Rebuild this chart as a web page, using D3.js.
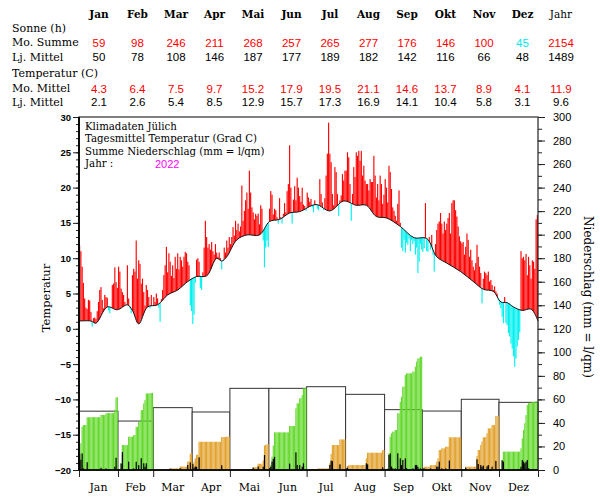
<!DOCTYPE html>
<html>
<head>
<meta charset="utf-8">
<script src="https://cdn.jsdelivr.net/npm/d3@7"></script>
<style>
    body { margin: 0; background: #fff; }
    svg { display: block; }
    text { font-family: "DejaVu Serif", serif; fill: #000; }
    .num { font-family: "Liberation Sans", sans-serif; }
    .axis text { font-family: "Liberation Sans", sans-serif; }
</style>
</head>
<body>
<svg width="600" height="500"></svg>
<script>
var columns = ["Jan", "Feb", "Mar", "Apr", "Mai", "Jun", "Jul", "Aug", "Sep", "Okt", "Nov", "Dez", "Jahr"];
var monthDays = [31, 28, 31, 30, 31, 30, 31, 31, 30, 31, 30, 31];
var rowLabels = ["Sonne (h)", "Mo. Summe", "Lj. Mittel", "Temperatur (C)", "Mo. Mittel", "Lj. Mittel"];
var sunSum = [59, 98, 246, 211, 268, 257, 265, 277, 176, 146, 100, 45, 2154];
var sunNorm = [50, 78, 108, 146, 187, 177, 189, 182, 142, 116, 66, 48, 1489];
var tempMean = [4.3, 6.4, 7.5, 9.7, 15.2, 17.9, 19.5, 21.1, 14.6, 13.7, 8.9, 4.1, 11.9];
var tempNorm = [2.1, 2.6, 5.4, 8.5, 12.9, 15.7, 17.3, 16.9, 14.1, 10.4, 5.8, 3.1, 9.6];
var rainNorm = [50, 41.6, 53, 49.3, 69.4, 69.4, 70.8, 64.3, 51.3, 50.1, 60.1, 57.5];
var titleLines = ["Klimadaten Jülich", "Tagesmittel Temperatur (Grad C)", "Summe Niederschlag (mm = l/qm)", "Jahr :"];
var yearLabel = "2022";

// long-term mean temperature, read at some days of the year
var climDays = [0, 9, 13, 22, 30, 38, 42, 47, 54, 62, 70, 78, 86, 93, 101, 109, 113, 117, 125, 133, 143, 151, 159, 167,
    175, 188, 199, 210, 220, 228, 236, 244, 255, 266, 276, 284, 292, 303, 313, 321, 329, 335, 340, 345, 352, 359, 364];
var climTemp = [1.1, 1.1, 0.8, 3.1, 2.7, 3.4, 2.6, 0.7, 3.1, 3.4, 4.8, 5.5, 6.7, 7.4, 7.5, 10.0, 9.6, 10.2, 12.6, 13.3,
    13.3, 15.2, 15.5, 16.4, 16.6, 17.6, 16.7, 18.1, 17.5, 17.5, 15.9, 15.7, 14.5, 12.9, 12.8, 10.2, 9.3, 8.1, 6.7, 5.6,
    5.3, 3.8, 3.7, 3.1, 2.6, 2.8, 1.1];

// daily mean temperature 2022
var tempDaily = [
    11.8, 11.0, 8.8, 6.5, 4.3, 3.0, 2.8, 4.1, 4.0, 2.4, 0.3, 1.5, 1.6, 1.4, 2.5, 3.8, 5.5, 5.9, 4.1, 2.9, 4.8, 4.5, 4.4, 2.6, 2.2, 3.0, 6.2, 6.4, 8.7, 6.6, 5.8,
    8.8, 8.1, 5.7, 5.2, 4.8, 3.8, 3.3, 9.0, 4.3, 2.9, 2.2, 7.6, 8.5, 8.1, 12.5, 7.1, 9.7, 9.2, 6.4, 7.1, 5.2, 3.3, 6.2, 5.5, 4.5, 2.9, 4.8, 3.3,
    4.5, 3.8, 5.0, 4.3, 3.0, 1.0, 4.2, 5.5, 7.6, 9.0, 11.6, 8.0, 10.7, 9.5, 7.5, 9.0, 7.2, 10.2, 8.5, 10.7, 8.4, 10.2, 9.7, 8.8, 10.2, 10.9, 10.7, 9.5, 9.0, 3.3, 2.5,
    0.7, 2.0, 6.5, 9.8, 10.0, 9.5, 5.8, 5.5, 8.0, 11.5, 15.3, 13.0, 11.5, 12.0, 11.2, 12.3, 11.0, 10.5, 12.0, 10.8, 10.2, 10.8, 10.0, 8.4, 9.6, 11.5, 10.8, 12.5, 11.5, 13.0,
    12.0, 13.0, 14.4, 13.2, 15.3, 14.0, 14.9, 13.8, 14.5, 20.3, 15.3, 16.7, 18.2, 19.3, 17.0, 22.4, 19.3, 17.2, 16.5, 15.5, 16.3, 16.0, 16.3, 14.8, 17.5, 17.0, 12.5, 8.7, 11.5, 12.5, 11.6,
    17.0, 19.5, 19.0, 16.2, 17.0, 16.8, 15.8, 14.9, 18.5, 15.8, 14.9, 16.3, 17.8, 16.5, 19.5, 20.5, 26.0, 20.0, 14.9, 18.3, 20.2, 18.2, 21.4, 20.0, 18.8, 18.0, 20.0, 17.6, 17.4, 16.7,
    19.3, 18.6, 18.0, 18.4, 17.2, 16.5, 18.2, 17.5, 17.0, 16.8, 21.2, 19.1, 17.9, 16.8, 18.5, 21.7, 24.8, 29.2, 24.8, 23.6, 19.1, 17.5, 22.9, 22.2, 19.1, 16.0, 18.2, 18.9, 21.9, 21.0, 22.4,
    22.4, 25.0, 24.3, 20.5, 15.3, 19.1, 22.9, 21.5, 25.0, 24.5, 25.2, 23.8, 25.2, 21.7, 23.1, 21.0, 20.5, 20.5, 19.6, 21.2, 20.8, 20.8, 24.5, 21.7, 18.6, 20.5, 18.2, 21.7, 20.5, 17.7, 19.0,
    21.2, 20.0, 17.9, 23.1, 22.2, 19.8, 17.2, 16.7, 16.0, 15.3, 17.7, 19.6, 15.0, 11.5, 11.0, 12.6, 10.8, 12.2, 11.9, 12.8, 11.0, 12.6, 12.0, 12.4, 10.5, 11.5, 7.9, 9.5, 12.0, 11.2,
    10.9, 11.4, 17.8, 11.0, 10.9, 13.0, 11.2, 13.3, 10.5, 8.1, 12.0, 14.0, 14.9, 15.2, 16.4, 14.9, 13.5, 15.2, 14.0, 14.9, 15.7, 16.4, 13.5, 17.8, 18.2, 18.2, 16.8, 15.9, 14.5, 13.1, 12.4,
    12.1, 12.3, 10.5, 11.6, 13.5, 12.6, 10.2, 11.2, 9.7, 8.8, 8.3, 9.3, 11.9, 10.2, 8.8, 7.9, 3.6, 7.1, 8.1, 7.9, 7.6, 8.1, 6.7, 6.9, 6.2, 5.5, 6.0, 5.3, 5.0, 4.0,
    3.4, 2.9, 1.7, 0.8, 4.5, 0.8, 0.5, -0.6, -1.1, -2.1, -2.8, -3.9, -5.4, -4.2, -2.5, -1.6, -0.5, 11.0, 10.0, 10.2, 9.7, 10.6, 7.6, 10.2, 9.0, 7.1, 9.7, 9.5, 8.5, 15.5, 16.1
];

// daily precipitation 2022 (mm)
var rainDaily = [
    14, 8.7, 14.1, 1.4, 0, 0, 6.6, 0, 0, 0, 0.1, 0, 0, 0, 0, 0, 0, 1.9, 0, 0, 0, 1.4, 0, 0.2, 0, 0, 0, 0, 2.8, 10.4, 0.3,
    0.3, 0.2, 5.5, 15.2, 0, 0, 0, 0, 7.1, 0, 0, 0, 1.4, 0, 7.0, 0, 4.2, 0, 10.0, 0, 5.7, 2.8, 5.7, 0, 0, 0, 0.4, 0,
    0, 0, 0, 0, 0, 0, 0, 0, 0, 0, 0, 0, 0, 1.2, 0.2, 0, 0, 0, 0, 0, 0, 1.5, 0, 0, 0, 0, 0, 4.3, 0.2, 6.4, 0,
    5.0, 2.0, 3.0, 2.7, 0.5, 10.8, 0, 0, 0, 0, 0, 0, 0, 0, 0, 0, 0, 0, 0, 0, 0, 0, 0, 4.0, 0, 0, 0, 0.3, 0, 0,
    0, 0, 0.3, 0, 0, 0, 0, 0, 0, 0, 0, 0, 0, 0, 0, 0, 0, 0, 2.0, 0, 0, 0, 3.0, 0, 0, 0, 2.8, 12.7, 0.5, 0.4, 0.3,
    1.5, 2.7, 7.1, 9.5, 11.2, 0, 0, 0, 0, 0, 0, 0, 0, 0, 0, 0, 5.4, 0, 0, 0, 0, 15.0, 4.3, 0, 4.2, 0, 2.8, 5.7, 0.3, 0.3,
    0.3, 0, 0, 0, 0.6, 0, 0, 0, 0, 0.5, 0, 0, 0, 0, 0, 0, 0, 0, 4.3, 8.0, 7.5, 0, 0, 0, 0, 0, 4.8, 0, 0, 0, 0,
    1.4, 2.0, 0.8, 0, 0, 0, 0, 0, 0, 0, 0, 0, 0, 0, 0, 0, 5.7, 4.8, 0, 0, 0, 0, 0, 0, 0, 0, 0, 0, 0, 2.3, 0,
    0.5, 0.5, 0.4, 12.8, 14.1, 2.9, 1.4, 0, 1.4, 0, 14.2, 0, 9.9, 4.2, 8.5, 0, 9.9, 1.5, 0, 0, 0, 0, 1.4, 0, 4.2, 4.3, 2.8, 0, 1.4, 0,
    1.5, 1.3, 0, 0, 0, 0, 1.4, 0, 0, 0, 0, 2.9, 2.8, 7.1, 0, 1.4, 0, 0, 1.4, 0, 0, 8.0, 0, 0, 0, 0, 0, 0, 0, 0, 0,
    0.5, 0.3, 0, 2.0, 0, 0, 0, 0, 0, 0, 0, 0, 9.1, 5.1, 0, 4.2, 2.9, 3.7, 0, 0.2, 3.2, 4.2, 0, 0, 2.8, 0, 0, 7.7, 0, 0,
    0, 0.3, 8.2, 7.1, 0, 0, 0, 0, 0, 0, 0, 0, 0, 0, 0, 0, 0, 2.8, 8.5, 7.1, 5.7, 7.0, 8.5, 1.5, 0.3, 0.4, 0.3, 0, 0.2, 0.3, 0.2
];

var svg, margin, width, height, g, xScale, yTemp, yRain, monthStart, days;

function initLayout() {
    svg = d3.select("svg"),
        margin = {top: 117, right: 62, bottom: 30, left: 79},
        width = +svg.attr("width") - margin.left - margin.right,
        height = +svg.attr("height") - margin.top - margin.bottom;

    xScale = d3.scaleLinear().domain([0, 365]).range([0, width]);
    yTemp = d3.scaleLinear().domain([-20, 30]).range([height, 0]);
    yRain = d3.scaleLinear().domain([0, 300]).range([height, 0]);

    monthStart = [0].concat(Array.from(d3.cumsum(monthDays)));

    // one record per day, with the running monthly rain sum
    days = [];
    monthDays.forEach(function (n, m) {
        var cum = d3.cumsum(rainDaily.slice(monthStart[m], monthStart[m] + n));
        d3.range(n).forEach(function (k) {
            var i = monthStart[m] + k;
            days.push({i: i, m: m, t: tempDaily[i], p: rainDaily[i], cum: cum[k]});
        });
    });

    g = svg.append("g")
        .attr("transform", "translate(" + margin.left + "," + margin.top + ")");
}

function drawTable() {
    var colX = d3.scalePoint().domain(columns).range([99, 561]);
    var table = svg.append("g").attr("id", "table");

    table.selectAll(".head")
        .data(columns)
        .enter().append("text")
        .attr("x", function (d) { return colX(d); })
        .attr("y", 14)
        .attr("text-anchor", "middle")
        .attr("dominant-baseline", "central")
        .attr("font-weight", function (d, i) { return i < 12 ? "bold" : "normal"; })
        .style("font-size", "10.5px")
        .text(function (d) { return d; });

    var rowY = [28.5, 42.5, 57, 73, 88.5, 102];
    table.selectAll(".rowlabel")
        .data(rowLabels)
        .enter().append("text")
        .attr("x", 12)
        .attr("y", function (d, i) { return rowY[i]; })
        .attr("dominant-baseline", "central")
        .style("font-size", "11px")
        .text(function (d) { return d; });

    function valueRow(values, y, norms, fmt) {
        table.append("g").selectAll("text")
            .data(values)
            .enter().append("text")
            .attr("class", "num")
            .attr("x", function (d, i) { return colX(columns[i]); })
            .attr("y", y)
            .attr("text-anchor", "middle")
            .attr("dominant-baseline", "central")
            .style("font-size", "11.5px")
            .style("fill", function (d, i) {
                if (!norms) return "#000";
                return d >= norms[i] ? "#ff0000" : "#00e8f0";
            })
            .text(function (d) { return fmt(d); });
    }

    valueRow(sunSum, 42.5, sunNorm, d3.format("d"));
    valueRow(sunNorm, 57, null, d3.format("d"));
    valueRow(tempMean, 88.5, tempNorm, d3.format(".1f"));
    valueRow(tempNorm, 102, null, d3.format(".1f"));
}

function climX(d, i) {
    if (i === 0) return 0;
    if (i === climDays.length - 1) return width;
    return xScale(d + 0.5);
}

function plotTemperature() {
    var clim = climDays.map(function (d, i) { return [d, climTemp[i]]; });
    var defs = svg.append("defs");

    var aboveArea = d3.area()
        .x(function (d, i) { return climX(d[0], i); })
        .y0(0)
        .y1(function (d) { return yTemp(d[1]); })
        .curve(d3.curveCatmullRom);
    var belowArea = d3.area()
        .x(function (d, i) { return climX(d[0], i); })
        .y0(function (d) { return yTemp(d[1]); })
        .y1(height)
        .curve(d3.curveCatmullRom);

    defs.append("clipPath").attr("id", "above")
        .append("path").attr("d", aboveArea(clim));
    defs.append("clipPath").attr("id", "below")
        .append("path").attr("d", belowArea(clim));

    var step = xScale(1) - xScale(0);

    // warmer than normal: from the curve up to the day value
    g.append("g").attr("clip-path", "url(#above)")
        .selectAll("rect")
        .data(days)
        .enter().append("rect")
        .attr("x", function (d) { return xScale(d.i) + 0.05; })
        .attr("width", step - 0.12)
        .attr("y", function (d) { return yTemp(d.t); })
        .attr("height", function (d) { return height - yTemp(d.t); })
        .attr("fill", "#ff0000");

    // colder than normal: from the curve down to the day value
    g.append("g").attr("clip-path", "url(#below)")
        .selectAll("rect")
        .data(days)
        .enter().append("rect")
        .attr("x", function (d) { return xScale(d.i) + 0.05; })
        .attr("width", step - 0.12)
        .attr("y", 0)
        .attr("height", function (d) { return yTemp(d.t); })
        .attr("fill", "#00f0f0");

    var line = d3.line()
        .x(function (d, i) { return climX(d[0], i); })
        .y(function (d) { return yTemp(d[1]); })
        .curve(d3.curveCatmullRom);
    g.append("path")
        .attr("d", line(clim))
        .attr("fill", "none")
        .attr("stroke", "#111")
        .attr("stroke-width", 1);
}

function plotRain() {
    var totals = monthDays.map(function (n, m) {
        return d3.sum(rainDaily.slice(monthStart[m], monthStart[m] + n));
    });

    // long-term monthly sums
    g.append("g").selectAll("rect")
        .data(rainNorm)
        .enter().append("rect")
        .attr("x", function (d, m) { return xScale(monthStart[m]); })
        .attr("width", function (d, m) { return xScale(monthDays[m]) - xScale(0); })
        .attr("y", function (d) { return yRain(d); })
        .attr("height", function (d) { return height - yRain(d); })
        .attr("fill", "#fff")
        .attr("stroke", "#333")
        .attr("stroke-width", 1);

    var step = xScale(1) - xScale(0);

    // running sum within each month
    g.append("g").selectAll("rect")
        .data(days.filter(function (d) { return d.cum > 0; }))
        .enter().append("rect")
        .attr("x", function (d) { return xScale(d.i) + 0.05; })
        .attr("width", step - 0.15)
        .attr("y", function (d) { return yRain(d.cum); })
        .attr("height", function (d) { return height - yRain(d.cum); })
        .attr("fill", function (d) { return totals[d.m] >= rainNorm[d.m] ? "#62d82a" : "#e2a12c"; });

    // daily amounts
    g.append("g").selectAll("rect")
        .data(days.filter(function (d) { return d.p > 0; }))
        .enter().append("rect")
        .attr("x", function (d) { return xScale(d.i + 0.5) - 0.6; })
        .attr("width", 1.2)
        .attr("y", function (d) { return yRain(d.p); })
        .attr("height", function (d) { return height - yRain(d.p); })
        .attr("fill", "#000");
}

function drawAxes() {
    var left = g.append("g").attr("class", "axis")
        .call(d3.axisLeft(yTemp).tickValues(d3.range(-20, 31, 5)).tickSize(6).tickPadding(2));
    left.selectAll("text").style("font-size", "9.5px").attr("font-weight", "bold");
    g.append("g").attr("class", "axis")
        .call(d3.axisLeft(yTemp).tickValues(d3.range(-20, 31, 1)).tickSize(3).tickFormat(""));

    var right = g.append("g").attr("class", "axis")
        .attr("transform", "translate(" + width + ",0)")
        .call(d3.axisRight(yRain).tickValues(d3.range(0, 301, 20)).tickSize(7).tickPadding(8));
    right.selectAll("text").style("font-size", "11px");
    g.append("g").attr("class", "axis")
        .attr("transform", "translate(" + width + ",0)")
        .call(d3.axisRight(yRain).tickValues(d3.range(0, 301, 10)).tickSize(4).tickFormat(""));

    g.append("g").attr("class", "axis")
        .attr("transform", "translate(0," + height + ")")
        .call(d3.axisBottom(xScale).tickValues(monthStart).tickSize(7).tickFormat(""));

    g.selectAll(".axis .domain").remove();
    g.selectAll(".axis line").attr("stroke", "#222");

    g.append("rect")
        .attr("width", width)
        .attr("height", height)
        .attr("fill", "none")
        .attr("stroke", "#222")
        .attr("stroke-width", 1.2);
    g.append("line")
        .attr("x1", 0).attr("x2", width)
        .attr("y1", 0).attr("y2", 0)
        .attr("stroke", "#888").attr("stroke-width", 1.2);
    g.append("line")
        .attr("x1", 0).attr("x2", 0)
        .attr("y1", 0).attr("y2", height)
        .attr("stroke", "#000").attr("stroke-width", 1.8);
    g.append("line")
        .attr("x1", 0).attr("x2", width)
        .attr("y1", height).attr("y2", height)
        .attr("stroke", "#000").attr("stroke-width", 1.6);

    // month names under the plot
    g.append("g").selectAll("text")
        .data(columns.slice(0, 12))
        .enter().append("text")
        .attr("x", function (d, m) { return xScale(monthStart[m] + monthDays[m] / 2); })
        .attr("y", height + 17)
        .attr("text-anchor", "middle")
        .attr("dominant-baseline", "central")
        .style("font-size", "11px")
        .text(function (d) { return d; });

    svg.append("text")
        .attr("transform", "translate(46,298) rotate(-90)")
        .attr("text-anchor", "middle")
        .attr("dominant-baseline", "central")
        .style("font-size", "11.5px")
        .text("Temperatur");

    svg.append("text")
        .attr("transform", "translate(588,297) rotate(90)")
        .attr("text-anchor", "middle")
        .attr("dominant-baseline", "central")
        .style("font-size", "12px")
        .text("Niederschlag (mm = l/qm)");
}

function drawHeader() {
    var header = g.append("g").attr("id", "header");
    header.selectAll("text")
        .data(titleLines)
        .enter().append("text")
        .attr("x", 6)
        .attr("y", function (d, i) { return 9 + i * 12.5; })
        .attr("dominant-baseline", "central")
        .style("font-size", "10.2px")
        .text(function (d) { return d; });
    header.append("text")
        .attr("class", "num")
        .attr("x", 76)
        .attr("y", 9 + 3 * 12.5)
        .attr("dominant-baseline", "central")
        .style("font-size", "11px")
        .style("fill", "#ff00ff")
        .text(yearLabel);
}

initLayout();
drawTable();
plotRain();
plotTemperature();
drawAxes();
drawHeader();
</script>
</body>
</html>
